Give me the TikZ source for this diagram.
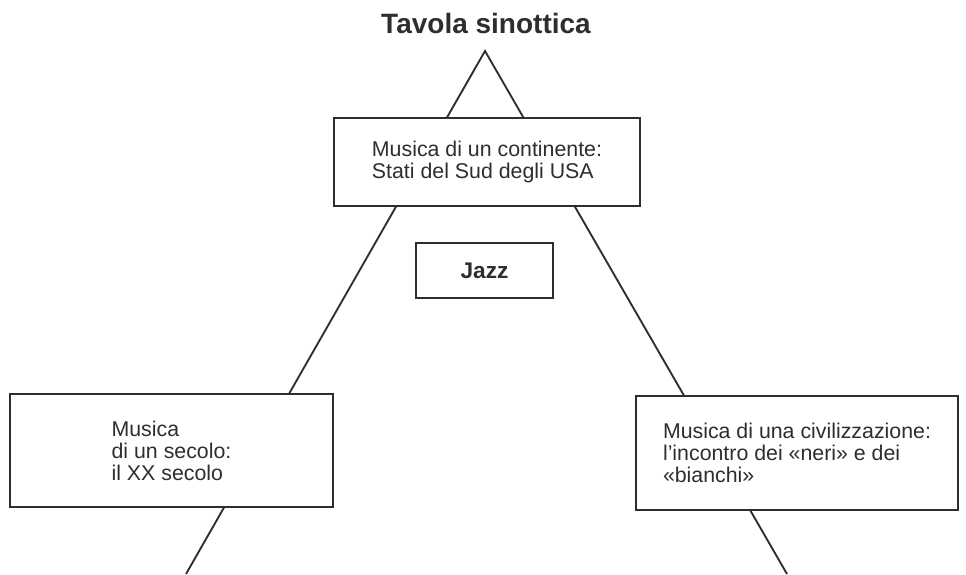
\documentclass[tikz,border=0pt]{standalone}
\usepackage{fontspec}
\setmainfont{Liberation Sans}
\usetikzlibrary{backgrounds}
\definecolor{ink}{HTML}{2E2E2E}
\tikzset{
  box/.style={draw=ink, line width=1.4pt, fill=white, text=ink, align=left,
    inner sep=0pt, font=\fontsize{16}{16.5}\selectfont},
  tri/.style={draw=ink, line width=1.4pt},
}
\begin{document}
\begin{tikzpicture}[x=0.75pt,y=-0.75pt]
\useasboundingbox (0,0) rectangle (966,574);
\node[text=ink, font=\fontsize{21}{23}\selectfont\bfseries] (title) at (486,23) {Tavola sinottica};
\node[box, minimum width=306*0.75pt, minimum height=88*0.75pt] (cont) at (487,162)
  {Musica di un continente:\\Stati del Sud degli USA};
\node[box, minimum width=137*0.75pt, minimum height=55*0.75pt, font=\fontsize{17}{17.5}\selectfont\bfseries] (jazz) at (484.5,270.5) {Jazz};
\node[box, minimum width=323*0.75pt, minimum height=113*0.75pt] (sec) at (171.5,450.5)
  {Musica\\di un secolo:\\il XX secolo};
\node[box, minimum width=322*0.75pt, minimum height=114*0.75pt] (civ) at (797,453)
  {Musica di una civilizzazione:\\l’incontro dei «neri» e dei\\«bianchi»};
\coordinate (apex) at (485,51);
\coordinate (bl) at (186,574);
\coordinate (br) at (787,574);
\begin{scope}[on background layer]
\draw[tri] (bl) -- (apex) -- (br);
\end{scope}
\end{tikzpicture}
\end{document}
